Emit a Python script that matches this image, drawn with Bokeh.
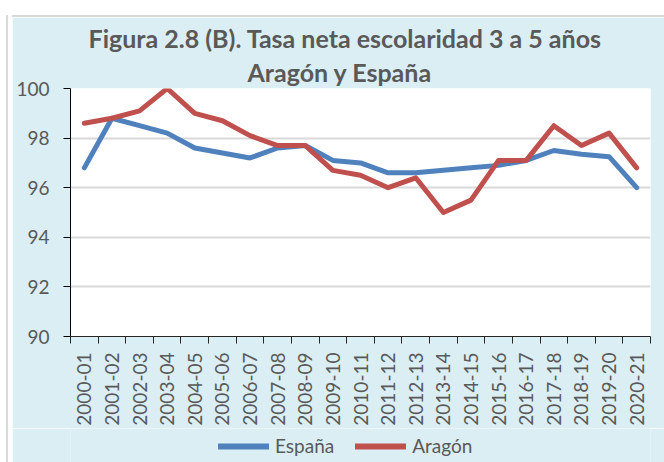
import math
from bokeh.plotting import figure
from bokeh.models import (FixedTicker, Legend, LegendItem, Title, Range1d, Spacer)
from bokeh.layouts import row, column
from bokeh.embed import file_html
from bokeh.resources import INLINE

categories = ["2000-01", "2001-02", "2002-03", "2003-04", "2004-05", "2005-06",
              "2006-07", "2007-08", "2008-09", "2009-10", "2010-11", "2011-12",
              "2012-13", "2013-14", "2014-15", "2015-16", "2016-17", "2017-18",
              "2018-19", "2019-20", "2020-21"]
espana = [96.8, 98.8, 98.5, 98.2, 97.6, 97.4, 97.2, 97.6, 97.7, 97.1, 97.0,
          96.6, 96.6, 96.7, 96.8, 96.9, 97.1, 97.5, 97.35, 97.25, 96.0]
aragon = [98.6, 98.8, 99.1, 100.0, 99.0, 98.7, 98.1, 97.7, 97.7, 96.7, 96.5,
          96.0, 96.4, 95.0, 95.5, 97.1, 97.1, 98.5, 97.7, 98.2, 96.8]
y_ticks = [90, 92, 94, 96, 98, 100]
series_names = ["España", "Aragón"]
series_colors = ["#4F81BD", "#C0504D"]

FONT = "Lato"
TXT = "#595959"
BG = "#DAEEF3"
EDGE = "#D9D9D9"

n = len(categories)
xc = [i + 0.5 for i in range(n)]

p = figure(width=656, height=411, output_backend="svg", toolbar_location=None,
           x_range=Range1d(0, n), y_range=Range1d(90, 100),
           min_border_left=58, min_border_right=18, min_border_top=71,
           min_border_bottom=91)
p.background_fill_color = "white"
p.border_fill_color = BG
p.outline_line_color = None

p.title.text = "Figura 2.8 (B). Tasa neta escolaridad 3 a 5 años"
p.title.align = "left"
p.title.offset = 18
p.title.text_font = FONT
p.title.text_font_size = "25px"
p.title.text_font_style = "bold"
p.title.text_color = TXT
p.title.standoff = 0
t2 = Title(text="Aragón y España", align="left", offset=177,
           text_font=FONT, text_font_size="25px", text_font_style="bold",
           text_color=TXT, standoff=4)
p.add_layout(t2, "above")

for vals, c in zip([espana, aragon], series_colors):
    p.line(xc, vals, line_color=c, line_width=5,
           line_cap="round", line_join="round")

# y axis
p.yaxis.ticker = FixedTicker(ticks=y_ticks)
p.yaxis.axis_line_color = "black"
p.yaxis.major_tick_line_color = "black"
p.yaxis.major_tick_out = 7
p.yaxis.major_tick_in = 0
p.yaxis.minor_tick_line_color = None
p.yaxis.major_label_text_font = FONT
p.yaxis.major_label_text_font_size = "19px"
p.yaxis.major_label_text_color = TXT
p.yaxis.major_label_standoff = 14

# x axis
p.xaxis.ticker = FixedTicker(ticks=xc, minor_ticks=list(range(n + 1)))
p.xaxis.major_label_overrides = {x: c for x, c in zip(xc, categories)}
p.xaxis.major_label_orientation = math.pi / 2
p.xaxis.axis_line_color = "#262626"
p.xaxis.major_tick_line_color = None
p.xaxis.minor_tick_line_color = "#262626"
p.xaxis.minor_tick_out = 7
p.xaxis.minor_tick_in = 0
p.xaxis.major_label_text_font = FONT
p.xaxis.major_label_text_font_size = "19px"
p.xaxis.major_label_text_color = TXT
p.xaxis.major_label_standoff = 9

p.xgrid.grid_line_color = None
p.ygrid.grid_line_color = "#D9D9D9"
p.ygrid.grid_line_width = 2

# legend strip below the chart (its own lines lie outside its view, only the keys show)
lg = figure(width=656, height=34, output_backend="svg", toolbar_location=None,
            x_range=Range1d(0, 1), y_range=Range1d(0, 1),
            x_axis_location=None, y_axis_location=None,
            min_border_left=0, min_border_right=0, min_border_top=0,
            min_border_bottom=0)
lg.background_fill_color = BG
lg.border_fill_color = BG
lg.outline_line_color = None
lg.grid.grid_line_color = None
items = []
for name, vals, c in zip(series_names, [espana, aragon], series_colors):
    r = lg.line(xc, vals, line_color=c, line_width=6,
                line_cap="round", line_join="round")
    items.append(LegendItem(label=name, renderers=[r]))
legend = Legend(items=items, orientation="horizontal", location=(148, 5),
                label_text_font=FONT, label_text_font_size="19px",
                label_text_color=TXT, glyph_width=51, label_standoff=6,
                spacing=21, border_line_color=None, background_fill_alpha=0,
                padding=4, margin=0)
lg.add_layout(legend)

left_edge = column(Spacer(width=6, height=15),
                   Spacer(width=2, height=447, styles={"background-color": EDGE}))
right_part = column(Spacer(width=656, height=15),
                    Spacer(width=656, height=2, styles={"background-color": EDGE}),
                    p, lg)
layout = row(Spacer(width=6, height=462), left_edge, right_part)

open("out.html", "w").write(file_html(layout, INLINE))
